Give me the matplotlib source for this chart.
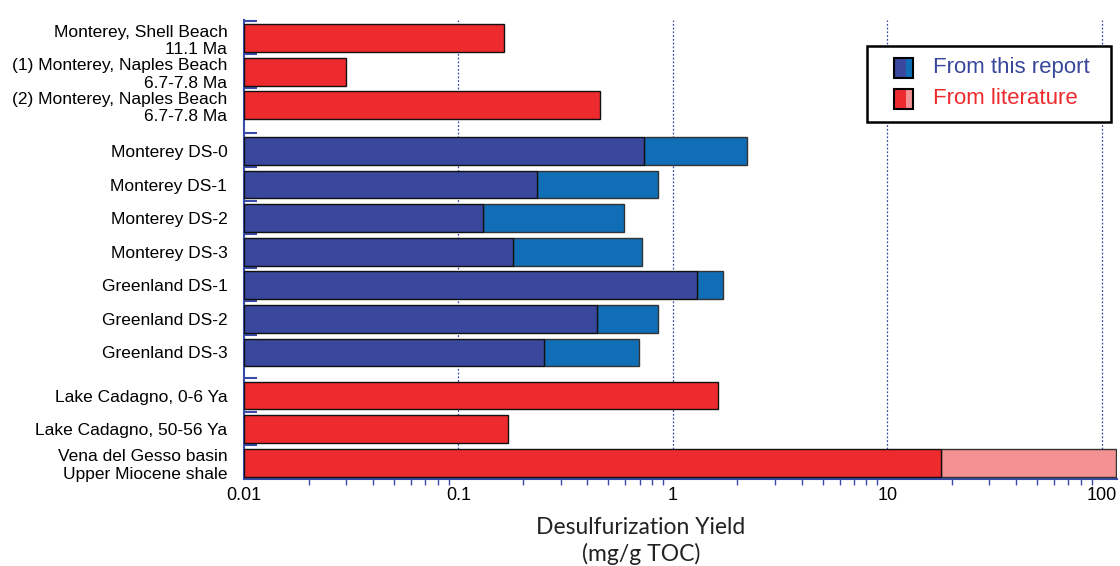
import matplotlib.pyplot as plt
import numpy as np
from matplotlib.patches import Rectangle
from matplotlib.ticker import FixedLocator, LogLocator, NullFormatter

plt.rcParams['font.family'] = ['Liberation Sans', 'DejaVu Sans']

# samples, top to bottom
labels = [
    "Monterey, Shell Beach\n11.1 Ma",
    "(1) Monterey, Naples Beach\n6.7-7.8 Ma",
    "(2) Monterey, Naples Beach\n6.7-7.8 Ma",
    "Monterey DS-0",
    "Monterey DS-1",
    "Monterey DS-2",
    "Monterey DS-3",
    "Greenland DS-1",
    "Greenland DS-2",
    "Greenland DS-3",
    "Lake Cadagno, 0-6 Ya",
    "Lake Cadagno, 50-56 Ya",
    "Vena del Gesso basin\nUpper Miocene shale",
]
# lower and upper desulfurization yield (mg/g TOC); None = single value
low = [0.163, 0.030, 0.46, 0.733, 0.232, 0.130, 0.179, 1.29, 0.443, 0.251, 1.62, 0.170, 17.9]
high = [None, None, None, 2.21, 0.851, 0.592, 0.717, 1.71, 0.851, 0.694, None, None, 117]
source = ["lit", "lit", "lit", "rep", "rep", "rep", "rep", "rep", "rep", "rep", "lit", "lit", "lit"]
group = [0, 0, 0, 1, 1, 1, 1, 1, 1, 1, 2, 2, 2]

colors = {
    "rep": ("#39479c", "#106eb7"),
    "lit": ("#ed2b2e", "#f39193"),
}
axis_blue = "#3a4aa8"

# row positions with a little extra space between groups
gap = [0, 0.36, 0.64]
ypos = np.arange(len(labels)) + np.array([gap[g] for g in group])
h = 0.83

fig = plt.figure(figsize=(11.2, 5.66), dpi=100)
ax = fig.add_axes([244 / 1120, 1 - 479 / 566, (1117 - 244) / 1120, (479 - 20) / 566])

base = 0.01
for y, lo, hi, s in zip(ypos, low, high, source):
    dark, light = colors[s]
    ax.barh(y, lo - base, left=base, height=h, color=dark, edgecolor="#111111",
            linewidth=1.0, zorder=3)
    if hi is not None:
        ax.barh(y, hi - lo, left=lo, height=h, color=light, edgecolor="#333333",
                linewidth=1.0, zorder=2.9)

ax.set_xscale("log")
ax.set_xlim(0.01, 118)
ax.set_ylim(13.125, -0.536)

# dotted decade lines
for d in [0.1, 1, 10, 100]:
    ax.axvline(d, color=axis_blue, lw=0.9, ls=(0, (1.5, 1.5)), zorder=1)

ax.xaxis.set_major_locator(FixedLocator([0.01, 0.1, 1, 10, 100]))
ax.set_xticklabels(["0.01", "0.1", "1", "10", "100"])
ax.xaxis.set_minor_locator(LogLocator(base=10, subs=np.arange(2, 10)))
ax.xaxis.set_minor_formatter(NullFormatter())
ax.tick_params(axis="x", which="major", direction="in", length=9, width=1.2,
               color=axis_blue, labelsize=13, pad=6)
ax.tick_params(axis="x", which="minor", direction="out", length=4.5, width=1.0,
               color=axis_blue)

ax.set_yticks(ypos)
ax.set_yticklabels(labels, fontsize=12.5)
for t in ax.get_yticklabels():
    t.set_linespacing(1.2)
ax.set_yticks(ypos - 0.52, minor=True)
ax.tick_params(axis="y", which="major", length=0, pad=12)
ax.tick_params(axis="y", which="minor", direction="in", length=9, width=1.5,
               color=axis_blue)

for side in ["top", "right"]:
    ax.spines[side].set_visible(False)
for side in ["left", "bottom"]:
    ax.spines[side].set_color(axis_blue)
    ax.spines[side].set_linewidth(1.5)

fig.text(641 / 1120, 1 - 541 / 566, "Desulfurization Yield\n(mg/g TOC)", ha="center",
         va="center", fontsize=16.5, family=["Lato", "DejaVu Sans"], color="#222222",
         linespacing=1.25)


# legend box drawn in pixel coordinates
def px(x, y):
    return x / 1120, 1 - y / 566


x0, y0 = px(867, 122)
fig.patches.append(Rectangle((x0, y0), 244 / 1120, 76 / 566, transform=fig.transFigure,
                             fill=True, facecolor="white", edgecolor="black", lw=1.8,
                             zorder=5))
for yc, key, txt in [(68, "rep", "From this report"), (99, "lit", "From literature")]:
    dark, light = colors[key]
    bx, by = px(894, yc + 10)
    fig.patches.append(Rectangle((bx, by), 12 / 1120, 20 / 566, transform=fig.transFigure,
                                 facecolor=dark, edgecolor="none", zorder=6))
    fig.patches.append(Rectangle((bx + 12 / 1120, by), 7 / 1120, 20 / 566,
                                 transform=fig.transFigure, facecolor=light,
                                 edgecolor="none", zorder=6))
    fig.patches.append(Rectangle((bx, by), 19 / 1120, 20 / 566, transform=fig.transFigure,
                                 fill=False, edgecolor="black", lw=1.5, zorder=7))
    tx, ty = px(933, yc)
    fig.text(tx, ty, txt, color=dark, fontsize=16, va="center", ha="left", zorder=8)

fig.savefig("out.png", dpi=100)
